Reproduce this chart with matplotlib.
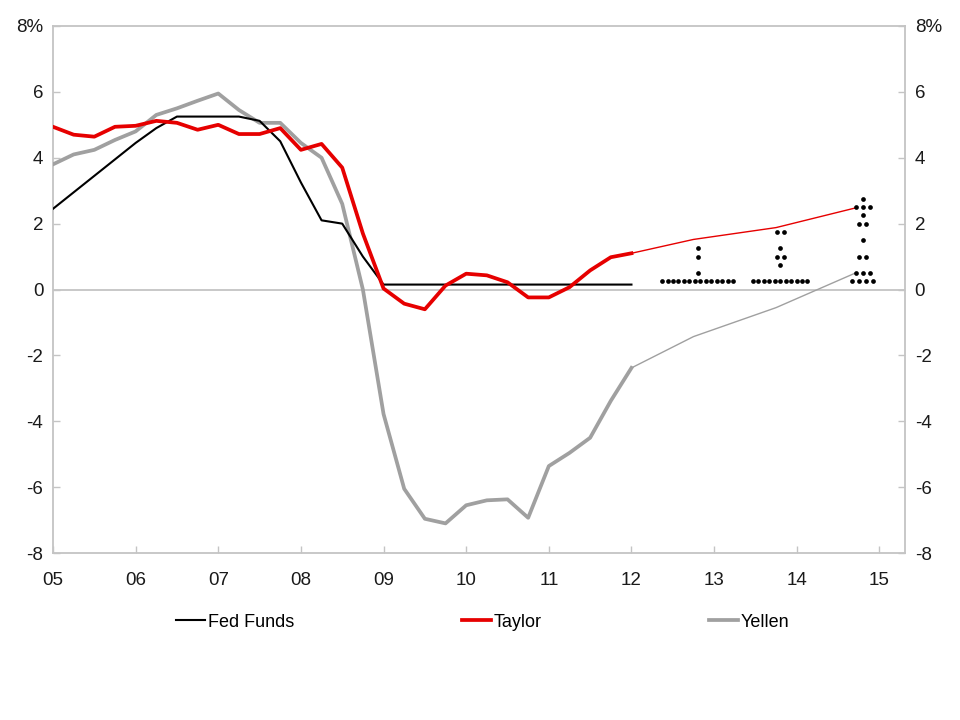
import matplotlib
matplotlib.use("Agg")
import matplotlib.pyplot as plt
import numpy as np

plt.rcParams['font.family'] = ['Liberation Sans Narrow', 'Liberation Sans', 'DejaVu Sans']

# ---- data ----
quarters = [2005.0 + 0.25 * i for i in range(29)]  # 2005Q1 .. 2012Q1

fed_funds = [2.45, 2.95, 3.45, 3.95, 4.45, 4.9, 5.25, 5.25, 5.25, 5.25, 5.12, 4.5,
             3.25, 2.1, 2.0, 1.0, 0.15, 0.15, 0.15, 0.15, 0.15, 0.15, 0.15, 0.15,
             0.15, 0.15, 0.15, 0.15, 0.15]
taylor = [4.94, 4.7, 4.64, 4.94, 4.97, 5.12, 5.06, 4.85, 5.0, 4.72, 4.72, 4.9,
          4.24, 4.42, 3.7, 1.7, 0.03, -0.43, -0.6, 0.12, 0.48, 0.43, 0.22, -0.24,
          -0.24, 0.07, 0.58, 0.98, 1.1]
yellen = [3.8, 4.1, 4.24, 4.54, 4.8, 5.3, 5.5, 5.73, 5.95, 5.45, 5.06, 5.06,
          4.45, 4.0, 2.6, 0.0, -3.78, -6.05, -6.96, -7.1, -6.55, -6.4, -6.37, -6.93,
          -5.36, -4.96, -4.5, -3.38, -2.38]

proj_x = [2012.0, 2012.75, 2013.75, 2014.7]
taylor_proj = [1.1, 1.52, 1.88, 2.47]
yellen_proj = [-2.38, -1.43, -0.55, 0.49]

# FOMC participants' projections (dots): (year column, rate, count)
dot_years = [2012, 2012, 2012, 2012,
             2013, 2013, 2013, 2013, 2013,
             2014, 2014, 2014, 2014, 2014, 2014, 2014, 2014]
dot_rates = [0.25, 0.5, 1.0, 1.25,
             0.25, 0.75, 1.0, 1.25, 1.75,
             0.25, 0.5, 1.0, 1.5, 2.0, 2.25, 2.5, 2.75]
dot_counts = [14, 1, 1, 1,
              11, 1, 2, 1, 2,
              4, 3, 2, 1, 2, 1, 3, 1]

x_ticks = list(range(2005, 2016))
x_labels = ['05', '06', '07', '08', '09', '10', '11', '12', '13', '14', '15']
y_ticks = [-8, -6, -4, -2, 0, 2, 4, 6, 8]
y_labels = ['-8', '-6', '-4', '-2', '0', '2', '4', '6', '8%']

# ---- figure ----
fig = plt.figure(figsize=(9.6, 7.2), dpi=100)
ax = fig.add_axes([0.0552, 0.2319, 0.8875, 0.732])

RED = '#e60000'
GRAY = '#a0a0a0'
SPINE = '#c4c4c4'

ax.axhline(0, color=SPINE, lw=1.3, zorder=1)

ax.plot(proj_x, taylor_proj, color=RED, lw=1.0, zorder=3)
ax.plot(proj_x, yellen_proj, color=GRAY, lw=1.0, zorder=3)

l_ff, = ax.plot(quarters, fed_funds, color='black', lw=1.5, zorder=4, label='Fed Funds')
l_ty, = ax.plot(quarters, taylor, color=RED, lw=2.7, zorder=5, label='Taylor')
l_ye, = ax.plot(quarters, yellen, color=GRAY, lw=2.7, zorder=3, label='Yellen')

# dots
dx, dy = [], []
for yr, r, n in zip(dot_years, dot_rates, dot_counts):
    sp = 0.066 if n > 4 else 0.085
    center = yr + 0.8
    for i in range(n):
        dx.append(center + (i - (n - 1) / 2) * sp)
        dy.append(r)
ax.plot(dx, dy, 'o', color='black', ms=3.4, mew=0, zorder=6)

ax.set_xlim(2005, 2015.31)
ax.set_ylim(-8, 8)
ax.set_xticks(x_ticks)
ax.set_xticklabels(x_labels)
ax.set_yticks(y_ticks)
ax.set_yticklabels(y_labels)

for s in ax.spines.values():
    s.set_color(SPINE)
    s.set_linewidth(1.3)

ax.tick_params(axis='both', direction='in', color=SPINE, length=5, width=1,
               labelsize=13.5, labelcolor='#1a1a1a')
ax.tick_params(axis='y', left=True, right=True, labelleft=True, labelright=True, pad=7)
ax.tick_params(axis='x', pad=14)

fig.legend(handles=[l_ff, l_ty, l_ye], loc='center', bbox_to_anchor=(0.503, 0.136),
           ncol=3, frameon=False, fontsize=13, handlelength=1.6, handletextpad=0.15,
           columnspacing=9.3)

fig.savefig('out.png', dpi=100)
